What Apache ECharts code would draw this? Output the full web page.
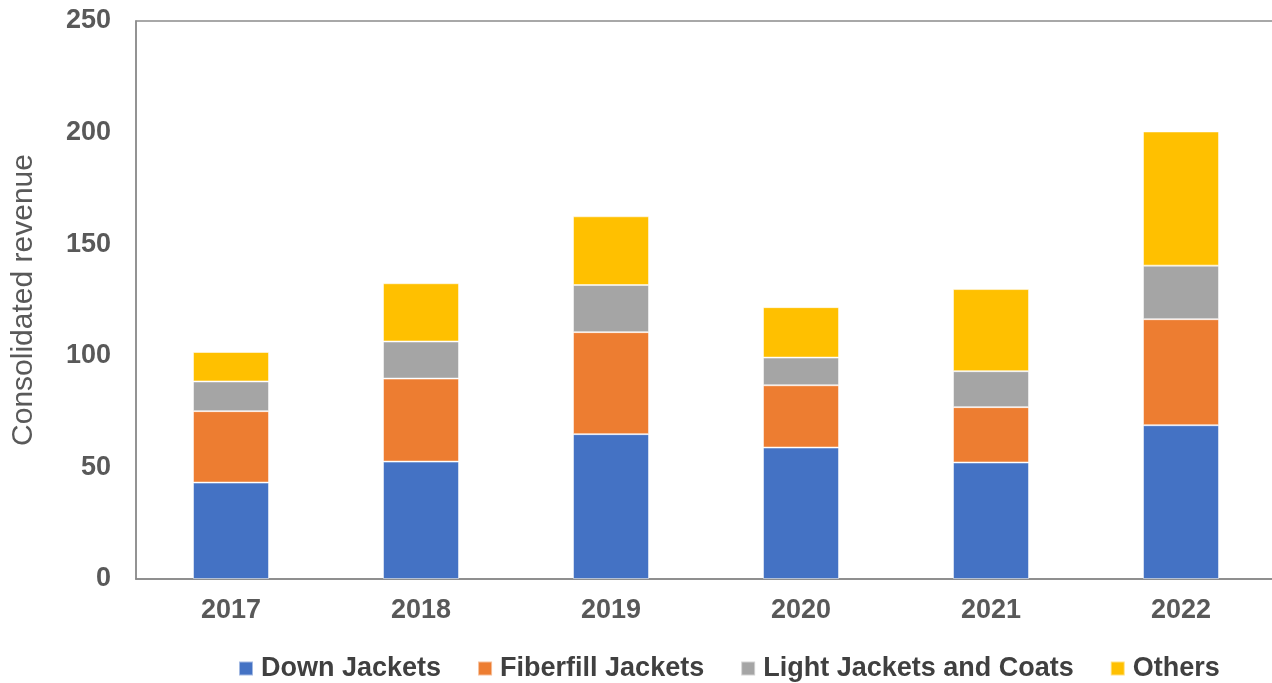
<!DOCTYPE html>
<html>
<head>
<meta charset="utf-8">
<script src="https://cdn.jsdelivr.net/npm/echarts@6/dist/echarts.min.js"></script>
<style>
html,body{margin:0;padding:0;background:#fff;}
#chart{width:1272px;height:683px;}
</style>
</head>
<body>
<div id="chart"></div>
<script>
const years = ["2017", "2018", "2019", "2020", "2021", "2022"];
const downJackets = [43.2, 52.6, 64.9, 58.9, 52.2, 68.9];
const fiberfillJackets = [32.0, 37.2, 45.7, 27.9, 24.8, 47.5];
const lightJacketsCoats = [13.3, 16.6, 21.1, 12.4, 16.1, 24.0];
const others = [13.2, 26.1, 30.8, 22.6, 36.8, 60.1];
const yTicks = [0, 50, 100, 150, 200, 250];
const seriesNames = ["Down Jackets", "Fiberfill Jackets", "Light Jackets and Coats", "Others"];
const seriesColors = ["#4472C4", "#ED7D31", "#A5A5A5", "#FFC000"];
const seriesData = [downJackets, fiberfillJackets, lightJacketsCoats, others];

const chart = echarts.init(document.getElementById('chart'), null, {renderer: 'canvas'});
const font = '"Liberation Sans", Arial, sans-serif';

chart.setOption({
  animation: false,
  backgroundColor: '#ffffff',
  grid: {
    left: 136, top: 21, width: 1140, bottom: 104,
    outerBoundsMode: 'none', containLabel: false,
    show: true, borderColor: '#8c8c8c', borderWidth: 1.5, backgroundColor: 'transparent'
  },
  legend: {
    left: 233, top: 650,
    icon: 'rect', itemWidth: 14, itemHeight: 14, itemGap: 36,
    textStyle: {fontFamily: font, fontSize: 27, fontWeight: 'bold', color: '#404040', padding: [0, 0, 0, 3]},
    data: seriesNames
  },
  xAxis: {
    type: 'category',
    data: years,
    axisLine: {show: true, lineStyle: {color: '#868686', width: 1.5}},
    axisTick: {show: false},
    axisLabel: {fontFamily: font, fontSize: 27, fontWeight: 'bold', color: '#595959', margin: 18}
  },
  yAxis: {
    type: 'value',
    min: yTicks[0], max: yTicks[yTicks.length - 1], interval: 50,
    name: 'Consolidated revenue',
    nameLocation: 'middle',
    nameGap: 97,
    nameTextStyle: {fontFamily: font, fontSize: 30, color: '#595959'},
    axisLine: {show: true, lineStyle: {color: '#8c8c8c', width: 1.5}},
    axisTick: {show: false},
    splitLine: {show: false},
    axisLabel: {fontFamily: font, fontSize: 27, fontWeight: 'bold', color: '#595959', margin: 25}
  },
  series: seriesNames.map((name, i) => ({
    name: name,
    type: 'bar',
    stack: 'total',
    barWidth: '40%',
    data: seriesData[i],
    itemStyle: {color: seriesColors[i], borderColor: 'rgba(255,255,255,0.5)', borderWidth: 1}
  }))
});
</script>
</body>
</html>
